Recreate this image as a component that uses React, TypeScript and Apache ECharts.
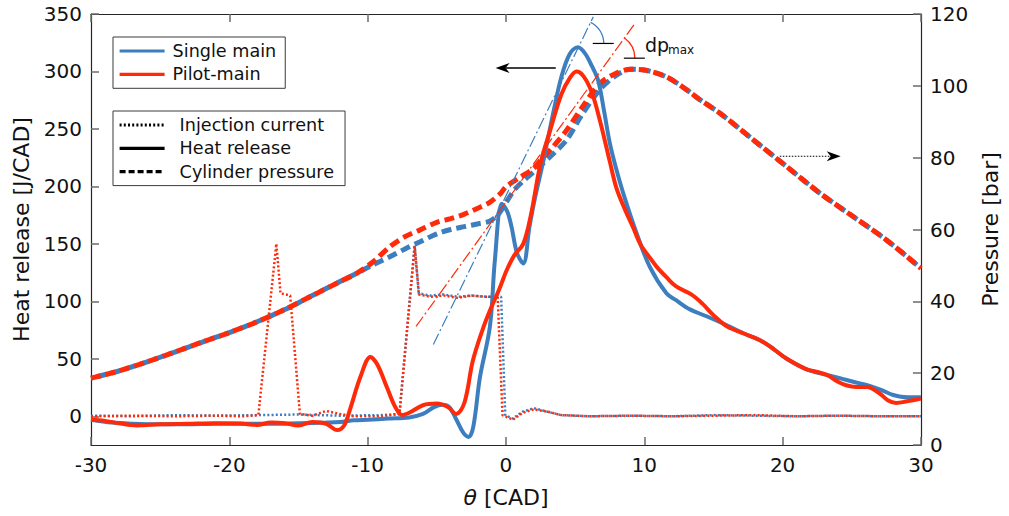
import React, { useEffect, useRef } from "react";
import * as echarts from "echarts";

const FONT = "DejaVu Sans";
const BLUE = "#3d7ebf";
const RED = "#ff2a0a";
const INK = "#111111";

// x-axis ticks
const thetaTicks = [-30, -20, -10, 0, 10, 20, 30];
const heatTicks = [0, 50, 100, 150, 200, 250, 300, 350];
const pressureTicks = [0, 20, 40, 60, 80, 100, 120];

// Heat release, single main (blue solid)
const thetaHRSingle = [-30, -28.5, -27, -25, -23, -21, -19, -17, -15, -13, -12, -11, -10, -8.5, -7, -6, -5.2, -4.6, -4.1, -3.56, -3.1, -2.7, -2.36, -1.88, -1.16, -0.8, -0.3, 0.1, 0.4, 0.8, 1.25, 1.7, 2.1, 2.7, 3.4, 4.0, 4.6, 5.2, 5.7, 6.2, 6.67, 7.1, 7.52, 8.0, 8.48, 9.45, 10.4, 11.6, 12.3, 13.3, 14.5, 16, 17.2, 18.4, 19.4, 20.3, 21.7, 23.2, 24.2, 25.1, 26.3, 27.2, 28, 29, 30];
const hrSingle = [-3, -5.5, -6.5, -7, -7, -6.5, -6.5, -6.5, -6, -5.5, -5, -3.5, -3, -2, -1, 2, 8, 10, 8, -3.5, -14, -18, -9, 34, 78, 136, 185, 178, 165, 142, 133, 165, 190, 222, 263, 295, 315, 321, 316, 305, 292, 265, 237, 214, 194, 159, 130, 107, 101, 93, 87, 79, 72, 66, 58, 50, 41, 36, 33, 30, 26.5, 22.5, 18.5, 16.5, 16.5];

// Heat release, pilot-main (red solid)
const thetaHRPilot = [-30, -29, -28, -26.7, -25, -23, -21, -19.2, -18, -17, -16, -15, -14, -13, -12.2, -11.7, -11.3, -10.5, -9.8, -9.3, -8.6, -8, -7.5, -7, -6, -5, -4.2, -3.6, -3.0, -2.4, -1.7, -1.16, -0.5, 0.05, 0.6, 1.25, 1.8, 2.5, 3.2, 4.0, 4.6, 5.1, 5.6, 6.2, 6.8, 7.5, 8.0, 8.6, 9.2, 9.7, 10.4, 10.9, 11.6, 12.3, 13.4, 14.2, 15, 16, 17.2, 18.4, 19.4, 20.3, 21.7, 22.5, 23.2, 24, 24.6, 25.3, 26.1, 27, 27.6, 28.2, 29, 30];
const hrPilot = [-3, -4, -6, -8, -7, -6.5, -6, -6.4, -7.5, -5.5, -6, -8, -5, -6.5, -12, -8, 5, 35, 51.6, 45, 25, 8, 1, 3, 9.6, 11, 8, 2, 12, 48, 75, 92, 110, 127, 140, 150, 175, 220, 249, 280, 294, 300, 296, 282, 257, 222, 198, 180, 164, 150, 138, 130, 121, 113, 106, 98, 88, 78, 72, 66, 58, 50, 41, 38.5, 36, 30, 27, 25.5, 25.5, 20, 14, 11.6, 13, 15.4];

// Cylinder pressure, single main (blue dashed, right axis)
const thetaPSingle = [-30, -28, -26, -24, -22, -20, -18, -16, -14, -12, -10.8, -9.6, -8.4, -7.3, -6.2, -5, -4, -3, -2, -1.2, -0.6, 0, 0.6, 1.25, 2, 2.5, 3.4, 4.4, 5.5, 6.8, 8, 9, 10, 11.6, 13.1, 14, 15.5, 17.9, 20.3, 22.7, 25.1, 27.5, 30];
const pSingle = [18.6, 20.6, 23.1, 25.8, 28.6, 31.3, 34.3, 37.7, 41.6, 45.5, 47.8, 50.2, 52.4, 54.6, 56.6, 58.8, 60, 60.8, 61.6, 62.3, 64, 67.5, 71, 73.5, 76, 77.8, 81, 85, 92, 99, 103, 104.6, 104.4, 102.5, 98.8, 96.2, 92.3, 84.9, 77.5, 70.1, 63.6, 57.1, 49.2];

// Cylinder pressure, pilot-main (red dashed, right axis)
const thetaPPilot = [-30, -28, -26, -24, -22, -20, -18, -16, -14, -12, -10.8, -9.6, -8.4, -7.3, -6.2, -5, -4, -3, -2, -1.2, -0.4, 0, 1, 2, 2.5, 3.4, 4.4, 5.5, 6.8, 8, 9, 10, 11.6, 13.1, 14, 15.5, 17.9, 20.3, 22.7, 25.1, 27.5, 30];
const pPilot = [18.6, 20.6, 23.1, 25.8, 28.6, 31.3, 34.3, 37.7, 41.6, 45.5, 47.8, 51, 55.2, 58, 59.9, 62, 63, 64.3, 66, 67.5, 70, 71.9, 74.5, 77, 79.3, 83, 87.7, 94, 100.7, 103.6, 104.6, 104.4, 102.5, 98.8, 96.2, 92.3, 84.9, 77.5, 70.1, 63.6, 57.1, 49.2];

// Injection current, single main (blue dotted, left axis scale)
const thetaInjSingle = [-30, -27, -24, -21, -18, -15, -12, -9, -7.7, -6.6, -6.3, -5.5, -4.5, -3.5, -2.5, -1.5, -0.8, -0.35, -0.05, 0.5, 1.2, 2, 3, 4, 6, 9, 12, 15, 18, 21, 24, 27, 30];
const injSingle = [0.5, 0, 1, 0.5, 1, 1.5, 0.5, 1, 2, 149, 107, 105, 106, 104, 105, 104, 104, 104, 1, -2, 4, 7, 4, 1, 0, 0.5, 0, 1, 0.5, 0, 0.5, 0, 0];

// Injection current, pilot-main (red dotted)
const thetaInjPilot = [-30, -27, -24, -21, -19, -17.9, -16.6, -16.3, -15.6, -14.9, -14, -13, -12, -11, -9, -7.7, -6.6, -6.3, -5.5, -4.5, -3.5, -2.5, -1.5, -0.6, -0.25, 0.5, 1.2, 2, 3, 4, 6, 9, 12, 15, 18, 21, 24, 27, 30];
const injPilot = [0, 0.5, 0, 0.5, 0, 1, 150, 107, 105, 2, 0.5, 4.6, 2, 0, 0, 2, 148, 106, 104, 105, 103, 105, 104, 104, 1, -3, 3, 6, 4, 1, 0, 0.5, 0, 0.5, 1, 0, 0.5, 0, 0];

// dp_max tangent lines (right axis)
const tangentSingleTheta = [-5.25, 6.31];
const tangentSingleP = [28.0, 119.2];
const tangentPilotTheta = [-6.5, 9.33];
const tangentPilotP = [33.0, 117.4];

// annotation anchors (data coordinates)
const arrowHeatTheta = [3.6, -0.75];
const arrowHeatLevel = 303;
const arrowPressTheta = [19.8, 24.2];
const arrowPressLevel = 80.4;
const angleLevelSingle = 111.8;
const angleLevelPilot = 107.7;
const dpLabelAt = [10.05, 111.4];

const pair = (xs: number[], ys: number[]) => xs.map((x, i) => [x, ys[i]]);

const axisLineStyle = { color: "#262626", width: 1.2 };
const tickStyle = { color: "#6b6b6b", width: 1.5 };

const legendBase = {
  orient: "vertical",
  left: 113,
  itemWidth: 45,
  itemHeight: 14,
  itemGap: 3.3,
  borderColor: "#3a3a3a",
  borderWidth: 1,
  backgroundColor: "#ffffff",
  selectedMode: false,
  itemStyle: { opacity: 0 },
  lineStyle: { width: 3.2 },
};

function buildOption(): any {
  return {
    animation: false,
    backgroundColor: "#ffffff",
    textStyle: { fontFamily: FONT },
    grid: { left: 91, right: 88, top: 14, bottom: 71, containLabel: false },
    legend: [
      {
        ...legendBase,
        data: ["Single main", "Pilot-main"],
        top: 37,
        padding: [4, 9, 4, 5],
        textStyle: { fontFamily: FONT, fontSize: 17.6, color: INK, lineHeight: 20, padding: [0, 0, 0, 3] },
      },
      {
        ...legendBase,
        data: ["Injection current", "Heat release", "Cylinder pressure"],
        top: 111,
        padding: [4, 11, 4, 5],
        textStyle: { fontFamily: FONT, fontSize: 17.6, color: INK, lineHeight: 20, padding: [0, 0, 0, 10] },
      },
    ],
    xAxis: [
      {
        type: "value",
        min: thetaTicks[0],
        max: thetaTicks[thetaTicks.length - 1],
        interval: 10,
        position: "bottom",
        axisLine: { show: true, onZero: false, lineStyle: axisLineStyle },
        axisTick: { show: true, inside: true, length: 8, lineStyle: tickStyle },
        axisLabel: { fontSize: 20, color: INK, margin: 10, fontFamily: FONT },
        splitLine: { show: false },
        name: "{i|θ} [CAD]",
        nameLocation: "middle",
        nameGap: 41,
        nameTextStyle: {
          fontSize: 22,
          color: INK,
          fontFamily: FONT,
          rich: { i: { fontStyle: "italic", fontSize: 22, fontFamily: FONT, color: INK } },
        },
      },
      {
        type: "value",
        min: thetaTicks[0],
        max: thetaTicks[thetaTicks.length - 1],
        interval: 10,
        position: "top",
        axisLine: { show: true, onZero: false, lineStyle: axisLineStyle },
        axisTick: { show: true, inside: true, length: 8, lineStyle: tickStyle },
        axisLabel: { show: false },
        splitLine: { show: false },
      },
    ],
    yAxis: [
      {
        type: "value",
        min: -25,
        max: 350,
        position: "left",
        axisLine: { show: true, onZero: false, lineStyle: axisLineStyle },
        axisTick: { show: true, inside: true, length: 8, lineStyle: tickStyle, customValues: heatTicks },
        axisLabel: { fontSize: 20, color: INK, margin: 9, fontFamily: FONT, customValues: heatTicks },
        splitLine: { show: false },
        name: "Heat release [J/CAD]",
        nameLocation: "middle",
        nameGap: 57,
        nameTextStyle: { fontSize: 22, color: INK, fontFamily: FONT },
      },
      {
        type: "value",
        min: pressureTicks[0],
        max: pressureTicks[pressureTicks.length - 1],
        interval: 20,
        position: "right",
        axisLine: { show: true, onZero: false, lineStyle: axisLineStyle },
        axisTick: { show: true, inside: true, length: 8, lineStyle: tickStyle },
        axisLabel: { fontSize: 20, color: INK, margin: 9, fontFamily: FONT },
        splitLine: { show: false },
        name: "Pressure [bar]",
        nameLocation: "middle",
        nameGap: 57,
        nameTextStyle: { fontSize: 22, color: INK, fontFamily: FONT },
      },
    ],
    series: [
      {
        name: "Single main pressure",
        type: "line",
        xAxisIndex: 0,
        yAxisIndex: 1,
        data: pair(thetaPSingle, pSingle),
        symbol: "none",
        smooth: 0.3,
        color: BLUE,
        lineStyle: { color: BLUE, width: 5, type: [10, 5], dashOffset: 9 },
      },
      {
        name: "Pilot-main pressure",
        type: "line",
        xAxisIndex: 0,
        yAxisIndex: 1,
        data: pair(thetaPPilot, pPilot),
        symbol: "none",
        smooth: 0.3,
        color: RED,
        lineStyle: { color: RED, width: 5, type: [10, 5] },
      },
      {
        name: "Single main injection",
        type: "line",
        xAxisIndex: 0,
        yAxisIndex: 0,
        data: pair(thetaInjSingle, injSingle),
        symbol: "none",
        color: BLUE,
        lineStyle: { color: BLUE, width: 2.5, type: [2, 2.2] },
      },
      {
        name: "Pilot-main injection",
        type: "line",
        xAxisIndex: 0,
        yAxisIndex: 0,
        data: pair(thetaInjPilot, injPilot),
        symbol: "none",
        color: RED,
        lineStyle: { color: RED, width: 2.5, type: [2, 2.2] },
      },
      {
        name: "Single main",
        type: "line",
        xAxisIndex: 0,
        yAxisIndex: 0,
        data: pair(thetaHRSingle, hrSingle),
        symbol: "none",
        smooth: 0.35,
        color: BLUE,
        lineStyle: { color: BLUE, width: 4 },
      },
      {
        name: "Pilot-main",
        type: "line",
        xAxisIndex: 0,
        yAxisIndex: 0,
        data: pair(thetaHRPilot, hrPilot),
        symbol: "none",
        smooth: 0.35,
        color: RED,
        lineStyle: { color: RED, width: 4 },
      },
      {
        name: "Single main tangent",
        type: "line",
        xAxisIndex: 0,
        yAxisIndex: 1,
        data: pair(tangentSingleTheta, tangentSingleP),
        symbol: "none",
        color: BLUE,
        lineStyle: { color: BLUE, width: 1.2, type: [12, 3, 2, 3] },
      },
      {
        name: "Pilot-main tangent",
        type: "line",
        xAxisIndex: 0,
        yAxisIndex: 1,
        data: pair(tangentPilotTheta, tangentPilotP),
        symbol: "none",
        color: RED,
        lineStyle: { color: RED, width: 1.2, type: [12, 3, 2, 3] },
      },
      {
        name: "Injection current",
        type: "line",
        data: [],
        symbol: "none",
        color: "#000",
        lineStyle: { color: "#000", width: 2.5, type: [2, 2.2] },
      },
      {
        name: "Heat release",
        type: "line",
        data: [],
        symbol: "none",
        color: "#000",
        lineStyle: { color: "#000", width: 3.2 },
      },
      {
        name: "Cylinder pressure",
        type: "line",
        data: [],
        symbol: "none",
        color: "#000",
        lineStyle: { color: "#000", width: 3.5, type: [6, 3] },
      },
    ],
  };
}

function interpTheta(thetas: number[], ps: number[], level: number) {
  return thetas[0] + ((level - ps[0]) * (thetas[1] - thetas[0])) / (ps[1] - ps[0]);
}

function buildGraphic(chart: echarts.ECharts): any[] {
  const toL = (p: number[]) => chart.convertToPixel({ seriesIndex: 4 }, p) as number[];
  const toR = (p: number[]) => chart.convertToPixel({ seriesIndex: 0 }, p) as number[];
  const els: any[] = [];

  // heat-release arrow (points left)
  const a0 = toL([arrowHeatTheta[0], arrowHeatLevel]);
  const a1 = toL([arrowHeatTheta[1], arrowHeatLevel]);
  els.push({ type: "line", shape: { x1: a0[0], y1: a0[1], x2: a1[0] + 10, y2: a1[1] }, style: { stroke: "#000", lineWidth: 1.3 } });
  els.push({
    type: "polygon",
    shape: { points: [[a1[0], a1[1]], [a1[0] + 14, a1[1] - 5], [a1[0] + 10, a1[1]], [a1[0] + 14, a1[1] + 5]] },
    style: { fill: "#000" },
  });

  // pressure arrow (points right, dotted)
  const b0 = toR([arrowPressTheta[0], arrowPressLevel]);
  const b1 = toR([arrowPressTheta[1], arrowPressLevel]);
  els.push({ type: "line", shape: { x1: b0[0], y1: b0[1], x2: b1[0] - 10, y2: b1[1] }, style: { stroke: "#000", lineWidth: 1.2, lineDash: [1.5, 1.5] } });
  els.push({
    type: "polygon",
    shape: { points: [[b1[0], b1[1]], [b1[0] - 14, b1[1] - 5], [b1[0] - 10, b1[1]], [b1[0] - 14, b1[1] + 5]] },
    style: { fill: "#000" },
  });

  // angle marks at the top of each tangent
  const marks = [
    { th: tangentSingleTheta, ps: tangentSingleP, level: angleLevelSingle, color: BLUE, r: 23.5 },
    { th: tangentPilotTheta, ps: tangentPilotP, level: angleLevelPilot, color: RED, r: 25 },
  ];
  marks.forEach((m) => {
    const c = toR([interpTheta(m.th, m.ps, m.level), m.level]);
    const top = toR([m.th[1], m.ps[1]]);
    const ang = Math.atan2(top[1] - c[1], top[0] - c[0]);
    els.push({
      type: "arc",
      shape: { cx: c[0], cy: c[1], r: m.r, startAngle: ang, endAngle: 0, clockwise: true },
      style: { stroke: m.color, lineWidth: 1.3, fill: "none" },
    });
    els.push({
      type: "line",
      shape: { x1: c[0] + m.r - 11, y1: c[1], x2: c[0] + m.r + 10, y2: c[1] },
      style: { stroke: "#000", lineWidth: 1.2 },
    });
  });

  // dp_max label
  const d = toR(dpLabelAt);
  els.push({ type: "text", x: d[0], y: d[1], style: { text: "dp", fontFamily: FONT, fontSize: 19, fill: INK, verticalAlign: "middle", align: "left" } });
  els.push({ type: "text", x: d[0] + 23, y: d[1] + 5, style: { text: "max", fontFamily: FONT, fontSize: 12, fill: INK, verticalAlign: "middle", align: "left" } });

  return els;
}

export default function App() {
  const ref = useRef<HTMLDivElement>(null);
  useEffect(() => {
    if (!ref.current) return;
    const chart = echarts.init(ref.current, null, { renderer: "svg" });
    chart.setOption(buildOption());
    chart.setOption({ graphic: buildGraphic(chart) });
    return () => chart.dispose();
  }, []);
  return (
    <div
      ref={ref}
      style={{ position: "fixed", left: 0, top: 0, width: 1009, height: 516, background: "#ffffff" }}
    />
  );
}
